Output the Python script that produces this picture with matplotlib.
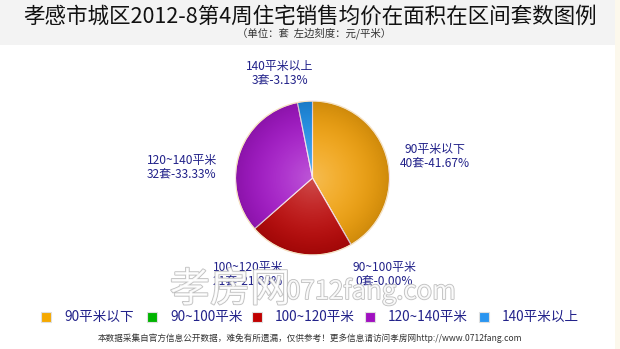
import matplotlib

matplotlib.use("Agg")
import matplotlib.pyplot as plt
import matplotlib.patheffects as pe
import numpy as np
from matplotlib.patches import Rectangle, Circle

plt.rcParams["font.family"] = ["Noto Sans CJK SC", "DejaVu Sans"]

# data
categories = ["90平米以下", "90~100平米", "100~120平米", "120~140平米", "140平米以上"]
legend_names = ["90平米以下", "90~100平米", "100~120平米", "120~140平米", "140平米以上"]
counts = [40, 0, 21, 32, 3]
percents = ["41.67%", "0.00%", "21.88%", "33.33%", "3.13%"]
title = "孝感市城区2012-8第4周住宅销售均价在面积在区间套数图例"
subtitle = "（单位：套  左边刻度：元/平米）"
footer = "本数据采集自官方信息公开数据，难免有所遗漏，仅供参考！更多信息请访问孝房网http://www.0712fang.com"

# style
slice_colors = ["#f2a20e", "#00b000", "#bc0a0a", "#a418c8", "#2090e8"]
legend_colors = ["#f5a800", "#00b400", "#c00000", "#a010c0", "#2a95f0"]
label_color = "#22228a"
W, H = 620, 349


def px(x, y):
    return x / W, 1 - y / H


fig = plt.figure(figsize=(W / 100, H / 100), dpi=100)
fig.patch.set_facecolor("white")
fig.patches.append(Rectangle(px(0, 45), 1, 45 / H, transform=fig.transFigure,
                             facecolor="#f3f3f3", edgecolor="none", zorder=0))
fig.patches.append(Rectangle(px(615, 349), 5 / W, 1, transform=fig.transFigure,
                             facecolor="#fcf8ec", edgecolor="none", zorder=0))

fig.text(*px(310, 17), title, ha="center", va="center", fontsize=15.5,
         color="#111111")
fig.text(*px(314, 33), subtitle, ha="center", va="center", fontsize=7.5,
         color="#333333")

# pie
cx, cy, r = 312.5, 178, 77
ax = fig.add_axes([(cx - r) / W, (H - cy - r) / H, 2 * r / W, 2 * r / H])
wedges, _ = ax.pie(counts, colors=slice_colors, startangle=90, counterclock=False,
                   radius=1, wedgeprops=dict(edgecolor="#f6e0e8", linewidth=0.8))
ax.set_xlim(-1, 1)
ax.set_ylim(-1, 1)
ax.set_aspect("auto")
ax.axis("off")
# radial shading: light centre, darker rim
g = np.linspace(-1, 1, 300)
xx, yy = np.meshgrid(g, g)
rr = np.sqrt(xx ** 2 + yy ** 2)
light = np.clip(1 - rr, 0, 1) ** 1.6 * 0.28
dark = np.clip(rr, 0, 1) ** 3 * 0.15
shade = np.zeros((300, 300, 4))
shade[..., :3] = (light / (light + dark + 1e-9))[..., None]
shade[..., 3] = light + dark
im = ax.imshow(shade, extent=(-1, 1, -1, 1), origin="lower", zorder=3)
im.set_clip_path(Circle((0, 0), 1, transform=ax.transData))
ax.add_patch(Circle((0, 0), 1, fill=False, edgecolor="#f8e6c0", lw=0.8, zorder=4))

# slice labels
label_pos = [(435, 156), (384, 274), (248, 274), (182, 167), (280, 73)]
for name, n, p, (lx, ly) in zip(categories, counts, percents, label_pos):
    fig.text(*px(lx, ly), f"{name}\n{n}套-{p}", ha="center", va="center",
             fontsize=8.6, color=label_color, linespacing=1.05)

# watermark
wm = [pe.Stroke(linewidth=1.2, foreground="#b4b4b4"), pe.Normal()]
fig.text(*px(230, 290), "孝房网", ha="center", va="center", fontsize=29,
         color="white", alpha=0.85, path_effects=wm, zorder=10)
fig.text(*px(371, 292), "0712fang.com", ha="center", va="center", fontsize=18.5,
         color="white", alpha=0.85, path_effects=wm, zorder=10)

# legend
sq_x = [46, 152, 257, 370, 484]
for x, c, name in zip(sq_x, legend_colors, legend_names):
    fig.patches.append(Rectangle(px(x - 5, 322), 10 / W, 10 / H,
                                 transform=fig.transFigure, facecolor=c,
                                 edgecolor="#e0e0e0", lw=0.8, zorder=5))
    fig.text(*px(x + 18, 317), name, ha="left", va="center", fontsize=9.8,
             color=label_color)

fig.text(*px(310, 338), footer, ha="center", va="center", fontsize=6.2,
         color="#333333")

fig.savefig("out.png", dpi=100)
